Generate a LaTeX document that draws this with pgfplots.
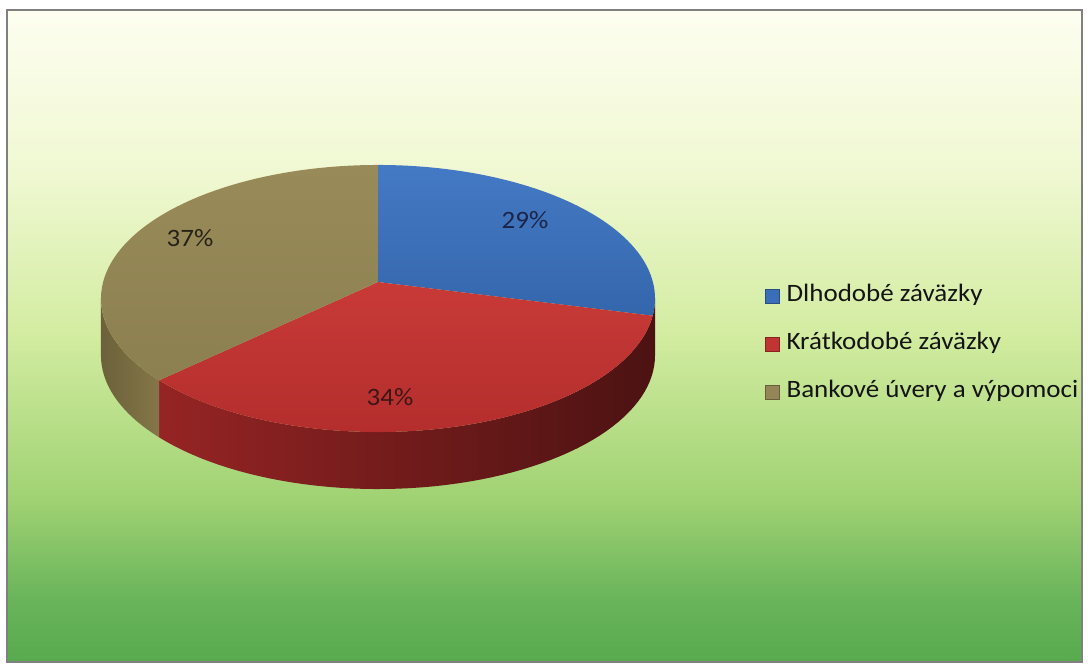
\documentclass[border=0pt]{standalone}
\usepackage{fontspec}
\setmainfont{Carlito}[FakeStretch=1.08]
\usepackage{pgfplots}
\pgfplotsset{compat=1.18}
\definecolor{frameC}{RGB}{128,128,128}
\definecolor{blueT}{RGB}{68,122,196}
\definecolor{blueB}{RGB}{52,102,172}
\definecolor{redT}{RGB}{200,58,55}
\definecolor{redB}{RGB}{180,46,45}
\definecolor{redSL}{RGB}{150,36,36}
\definecolor{redSR}{RGB}{76,18,18}
\definecolor{tanT}{RGB}{153,139,89}
\definecolor{tanB}{RGB}{140,127,80}
\definecolor{tanSL}{RGB}{108,97,58}
\definecolor{tanSR}{RGB}{132,118,72}
\definecolor{legBlue}{RGB}{58,110,185}
\definecolor{legRed}{RGB}{192,52,50}
\definecolor{legTan}{RGB}{148,134,86}
\definecolor{bgA}{RGB}{88,170,78}
\definecolor{bgB}{RGB}{105,180,90}
\definecolor{bgC}{RGB}{160,210,115}
\definecolor{bgD}{RGB}{210,236,160}
\definecolor{bgE}{RGB}{240,248,210}
\definecolor{bgF}{RGB}{253,254,240}
\pgfdeclareverticalshading{chartbg}{100bp}{%
  color(0bp)=(bgA);
  color(25bp)=(bgA);
  color(29.75bp)=(bgB);
  color(37.5bp)=(bgC);
  color(50bp)=(bgD);
  color(62.5bp)=(bgE);
  color(75bp)=(bgF);
  color(100bp)=(bgF)}
% shares of the pie (%)
\def\pA{29}
\def\pB{34}
\def\pC{37}
\newcommand\pieface[3]{\addplot[#3, forget plot, draw=none, samples at={0,1,...,60}, variable=\s]
  ({\s<0.5 ? 378 : PX(#1+(#2-#1)*(\s-1)/59)},{\s<0.5 ? 388 : PY(#1+(#2-#1)*(\s-1)/59)});}
\newcommand\piewall[3]{\addplot[#3, forget plot, draw=none, samples at={0,1,...,119}, variable=\s]
  ({PX(SA(\s,#1,#2))},{PY(SA(\s,#1,#2))-(\s<59.5 ? 0 : 57)});}
\begin{document}
\begin{tikzpicture}
\path[use as bounding box] (-7pt,-8pt) rectangle (1081pt,662pt);
\pgfmathsetmacro\aA{90}
\pgfmathsetmacro\aB{\aA-3.6*\pA}
\pgfmathsetmacro\aC{\aB-3.6*\pB}
\pgfmathsetmacro\aD{\aC-3.6*\pC}
\pgfmathsetmacro\sR{-asin(0.1236)}
\pgfmathsetmacro\sL{-180+asin(0.1236)}
\begin{axis}[
  at={(0pt,0pt)}, anchor=south west,
  scale only axis, width=1075pt, height=652pt,
  xmin=7, xmax=1082, ymin=8, ymax=660,
  ticks=none,
  axis line style={draw=frameC, line width=1.6pt},
  axis background/.style={shading=chartbg},
  declare function={
    PX(\u)=378+274.9*cos(\u)/(1+0.1236*sin(\u));
    PY(\u)=388+131.5*sin(\u)/(1+0.1236*sin(\u));
    SA(\u,\a,\b)=(\u<59.5) ? (\a+(\b-\a)*\u/59) : (\b+(\a-\b)*(\u-60)/59);
  },
  legend image code/.code={\fill[#1] (0pt,-7pt) rectangle (14pt,7pt);},
  legend style={at={(axis cs:762,326)}, anchor=west, draw=none, fill=none,
    font=\fontsize{25pt}{29pt}\selectfont, text=black!92,
    nodes={inner sep=0pt, text height=17pt, text depth=5pt, anchor=west},
    row sep=26pt, column sep=7pt},
  legend cell align=left,
]
% side walls
\piewall{\sR}{\aC}{left color=redSL, right color=redSR}
\piewall{\aC}{\sL}{left color=tanSL, right color=tanSR}
% top faces
\pieface{\aA}{\aB}{top color=blueT, bottom color=blueB}
\pieface{\aB}{\aC}{top color=redT, bottom color=redB}
\pieface{\aC}{\aD}{top color=tanT, bottom color=tanB}
% labels
\node[font=\fontsize{25pt}{29pt}\selectfont, text={rgb,255:red,28;green,36;blue,72}] at (axis cs:525,450) {\pA\%};
\node[font=\fontsize{25pt}{29pt}\selectfont, text={rgb,255:red,60;green,22;blue,22}] at (axis cs:390,273) {\pB\%};
\node[font=\fontsize{25pt}{29pt}\selectfont, text={rgb,255:red,38;green,34;blue,24}] at (axis cs:190,432) {\pC\%};
% legend
\addlegendimage{fill=legBlue, draw=legBlue!70!black}
\addlegendentry{Dlhodobé záväzky}
\addlegendimage{fill=legRed, draw=legRed!70!black}
\addlegendentry{Krátkodobé záväzky}
\addlegendimage{fill=legTan, draw=legTan!70!black}
\addlegendentry{Bankové úvery a výpomoci}
\end{axis}
\end{tikzpicture}
\end{document}
